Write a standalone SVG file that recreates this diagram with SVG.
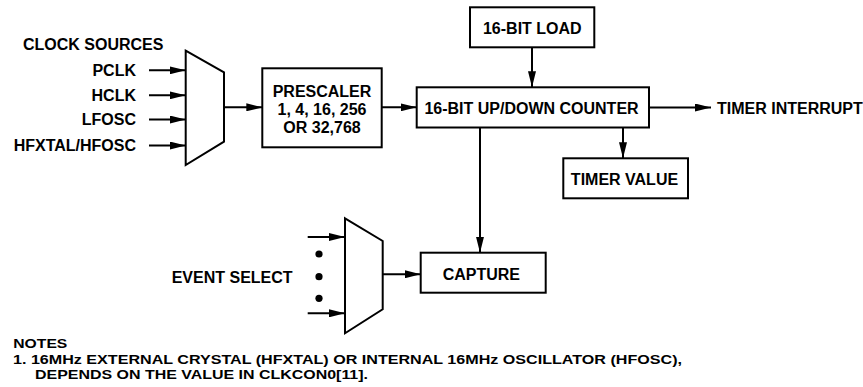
<svg xmlns="http://www.w3.org/2000/svg" width="863" height="387" viewBox="0 0 863 387">
  <defs>
    <style>
      text { font-family: "Liberation Sans", Arial, Helvetica, sans-serif; font-weight: bold; font-size: 16px; fill: #000; }
      .mid { text-anchor: middle; }
      .end { text-anchor: end; }
      .note { font-size: 13.6px; }
      .box { fill: #fff; stroke: #000; stroke-width: 2; }
      .mux { fill: #fff; stroke: #000; stroke-width: 2; stroke-linejoin: miter; }
      .arr { fill: none; stroke: #000; stroke-width: 2; marker-end: url(#ah); }
      .dot { fill: #000; }
    </style>
    <marker id="ah" markerUnits="userSpaceOnUse" markerWidth="16" markerHeight="8" refX="16" refY="4" orient="auto">
      <path d="M0,0 L16,4 L0,8 z" fill="#000"/>
    </marker>
  </defs>
  <rect width="863" height="387" fill="#fff"/>

  <g id="clock-sources">
    <text x="23" y="49.5">CLOCK SOURCES</text>
    <text class="end" x="136" y="75.5">PCLK</text>
    <text class="end" x="136" y="100.5">HCLK</text>
    <text class="end" x="136" y="125">LFOSC</text>
    <text class="end" x="136" y="151">HFXTAL/HFOSC</text>
  </g>

  <g id="clock-mux">
    <polygon class="mux" points="185.7,50.7 224,72.3 224,141.7 185.7,165"/>
  </g>

  <g id="prescaler">
    <rect class="box" x="262.3" y="68.3" width="119.4" height="79"/>
    <text class="mid" x="322" y="96.7">PRESCALER</text>
    <text class="mid" x="322" y="114.5">1, 4, 16, 256</text>
    <text class="mid" x="322" y="132.7">OR 32,768</text>
  </g>

  <g id="load">
    <rect class="box" x="470" y="7.3" width="124.3" height="40"/>
    <text class="mid" x="532.3" y="33.5">16-BIT LOAD</text>
  </g>

  <g id="counter">
    <rect class="box" x="416.7" y="87.3" width="232.3" height="40.2"/>
    <text class="mid" x="531.5" y="114">16-BIT UP/DOWN COUNTER</text>
  </g>

  <g id="timer-interrupt">
    <text x="717" y="114.3">TIMER INTERRUPT</text>
  </g>

  <g id="timer-value">
    <rect class="box" x="563.3" y="158.3" width="124.7" height="40"/>
    <text class="mid" x="624.5" y="185">TIMER VALUE</text>
  </g>

  <g id="event-select">
    <text x="171.7" y="282.7">EVENT SELECT</text>
    <circle class="dot" cx="319" cy="254" r="3.6"/>
    <circle class="dot" cx="319" cy="276.7" r="3.6"/>
    <circle class="dot" cx="319" cy="298.3" r="3.6"/>
  </g>

  <g id="event-mux">
    <polygon class="mux" points="345,218.3 382.7,241 382.7,309.3 345,333.3"/>
  </g>

  <g id="capture">
    <rect class="box" x="420.7" y="252.7" width="125" height="40"/>
    <text class="mid" x="481.3" y="280">CAPTURE</text>
  </g>

  <g id="connectors">
    <line class="arr" x1="149" y1="70.3" x2="185.7" y2="70.3"/>
    <line class="arr" x1="149" y1="95.3" x2="185.7" y2="95.3"/>
    <line class="arr" x1="149" y1="119.5" x2="185.7" y2="119.5"/>
    <line class="arr" x1="149" y1="145.5" x2="185.7" y2="145.5"/>
    <line class="arr" x1="224" y1="107.3" x2="262.3" y2="107.3"/>
    <line class="arr" x1="381.7" y1="107.3" x2="416.7" y2="107.3"/>
    <line class="arr" x1="532" y1="47.3" x2="532" y2="87.3"/>
    <line class="arr" x1="649" y1="107.5" x2="711" y2="107.5"/>
    <line class="arr" x1="623" y1="127.5" x2="623" y2="158.3"/>
    <line class="arr" x1="480" y1="127.5" x2="480" y2="252.7"/>
    <line class="arr" x1="307.7" y1="237" x2="345" y2="237"/>
    <line class="arr" x1="307.7" y1="313.3" x2="345" y2="313.3"/>
    <line class="arr" x1="382.7" y1="274.3" x2="420.7" y2="274.3"/>
  </g>

  <g id="notes">
    <text class="note" x="13.3" y="348" textLength="54" lengthAdjust="spacingAndGlyphs">NOTES</text>
    <text class="note" x="13" y="363.5" textLength="669" lengthAdjust="spacingAndGlyphs">1. 16MHz EXTERNAL CRYSTAL (HFXTAL) OR INTERNAL 16MHz OSCILLATOR (HFOSC),</text>
    <text class="note" x="35" y="379" textLength="333" lengthAdjust="spacingAndGlyphs">DEPENDS ON THE VALUE IN CLKCON0[11].</text>
  </g>
</svg>
